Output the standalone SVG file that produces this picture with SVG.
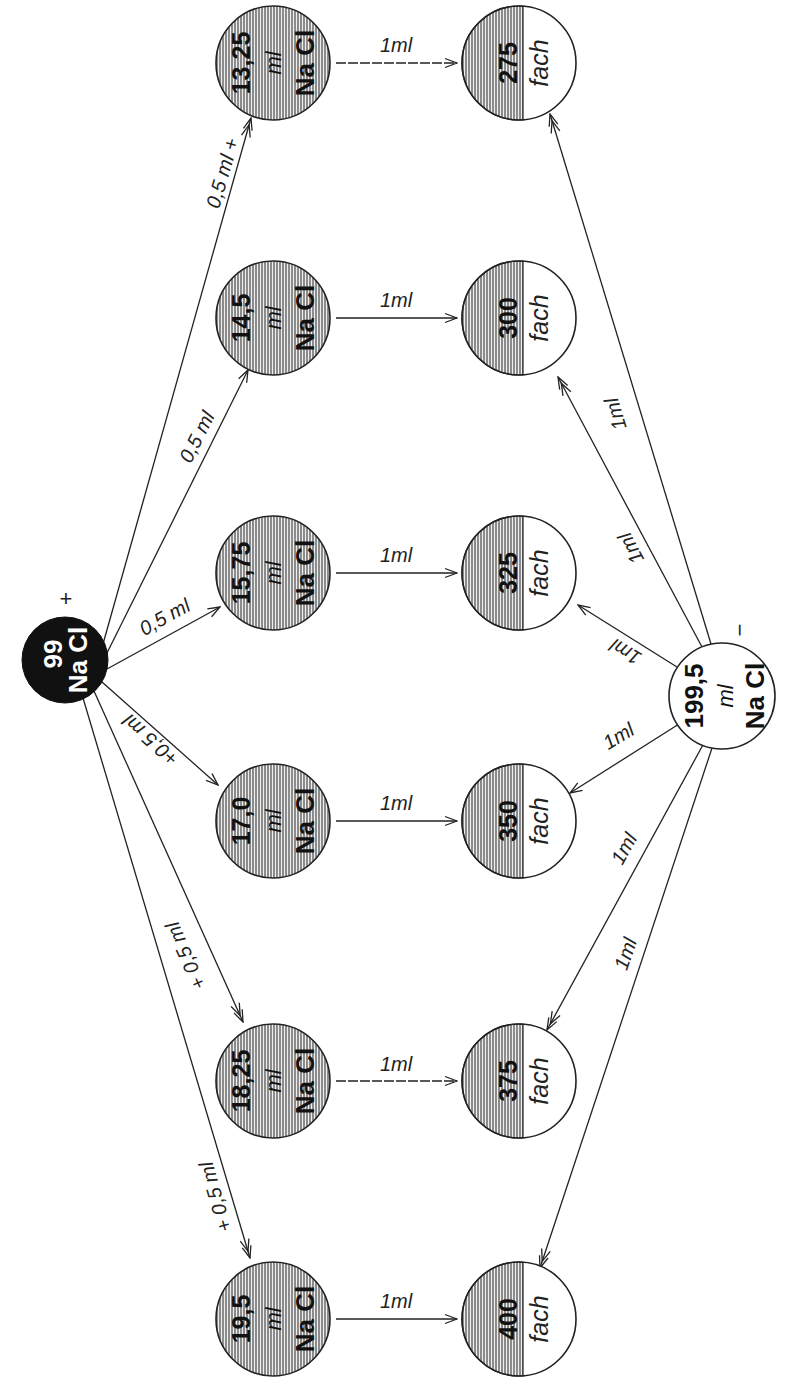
<svg xmlns="http://www.w3.org/2000/svg" width="805" height="1388" viewBox="0 0 805 1388">
<style>
.ln{stroke:#222;stroke-width:1.3;fill:none}
.c{stroke:#222;stroke-width:1.6}
.lbl{font-family:"Liberation Sans",Arial,sans-serif;font-style:italic;font-size:20px;fill:#222;text-anchor:middle}
.num{font-family:"Liberation Sans Narrow","Liberation Sans",sans-serif;font-weight:bold;font-size:25px;fill:#111;text-anchor:middle}
.ml{font-family:"Liberation Sans",Arial,sans-serif;font-style:italic;font-size:22px;fill:#111;text-anchor:middle}
.na{font-family:"Liberation Sans Narrow","Liberation Sans",sans-serif;font-weight:bold;font-size:26px;fill:#111;text-anchor:middle}
.fach{font-family:"Liberation Sans",Arial,sans-serif;font-style:italic;font-size:25px;fill:#222;text-anchor:middle}
.w{fill:#fff}
.sym{font-family:"Liberation Sans",Arial,sans-serif;font-size:22px;fill:#222;text-anchor:middle}
</style>
<defs>
<pattern id="hatch" width="3" height="10" patternUnits="userSpaceOnUse">
<rect width="3" height="10" fill="#eeeeee"/>
<line x1="1" y1="0" x2="1" y2="10" stroke="#3a3a3a" stroke-width="1.1"/>
</pattern>
<marker id="ah" viewBox="-15 -6 16 12" markerWidth="16" markerHeight="12" refX="0" refY="0" orient="auto" markerUnits="userSpaceOnUse">
<path d="M-12,-4.5 L0,0 L-12,4.5" fill="none" stroke="#222" stroke-width="1.3"/>
</marker>
<marker id="ah2" viewBox="-22 -6 23 12" markerWidth="23" markerHeight="12" refX="0" refY="0" orient="auto" markerUnits="userSpaceOnUse">
<path d="M-12,-4.5 L0,0 L-12,4.5 M-19,-4.5 L-7,0 L-19,4.5" fill="none" stroke="#222" stroke-width="1.3"/>
</marker>
</defs>
<rect width="805" height="1388" fill="#fff"/>

<g id="connectors">
<line class="ln" x1="103" y1="644" x2="251" y2="118" marker-end="url(#ah2)"/>
<line class="ln" x1="106" y1="655" x2="248" y2="370" marker-end="url(#ah)"/>
<line class="ln" x1="107" y1="669" x2="220" y2="607" marker-end="url(#ah)"/>
<line class="ln" x1="102" y1="682" x2="218" y2="785" marker-end="url(#ah)"/>
<line class="ln" x1="94" y1="691" x2="243" y2="1022" marker-end="url(#ah2)"/>
<line class="ln" x1="83" y1="698" x2="250" y2="1258" marker-end="url(#ah2)"/>
<line class="ln" x1="336" y1="63" x2="457" y2="63" stroke-dasharray="10 2" marker-end="url(#ah)"/>
<line class="ln" x1="336" y1="318" x2="457" y2="318" marker-end="url(#ah)"/>
<line class="ln" x1="336" y1="573" x2="457" y2="573" marker-end="url(#ah)"/>
<line class="ln" x1="336" y1="821" x2="457" y2="821" marker-end="url(#ah)"/>
<line class="ln" x1="336" y1="1081" x2="457" y2="1081" stroke-dasharray="10 2" marker-end="url(#ah)"/>
<line class="ln" x1="336" y1="1319" x2="457" y2="1319" marker-end="url(#ah)"/>
<line class="ln" x1="711" y1="644" x2="550" y2="114" marker-end="url(#ah2)"/>
<line class="ln" x1="702" y1="647" x2="558" y2="377" marker-end="url(#ah2)"/>
<line class="ln" x1="677" y1="667" x2="578" y2="605" marker-end="url(#ah)"/>
<line class="ln" x1="679" y1="724" x2="570" y2="793" marker-end="url(#ah)"/>
<line class="ln" x1="704" y1="743" x2="547" y2="1030" marker-end="url(#ah2)"/>
<line class="ln" x1="713" y1="745" x2="540" y2="1268" marker-end="url(#ah2)"/>

<text class="lbl" font-size="22" transform="translate(229,175) rotate(-74)">0,5 ml +</text>
<text class="lbl" font-size="22" transform="translate(203,440) rotate(-63)">0,5 ml</text>
<text class="lbl" font-size="21" transform="translate(168,623) rotate(-29)">0,5 ml</text>
<text class="lbl" font-size="21" transform="translate(155,735) rotate(-138)">+0,5 ml</text>
<text class="lbl" font-size="21" transform="translate(192,953) rotate(-114)">+ 0,5 ml</text>
<text class="lbl" font-size="21" transform="translate(222,1195) rotate(-106)">+ 0,5 ml</text>
<text class="lbl" x="396" y="52">1ml</text>
<text class="lbl" x="396" y="307">1ml</text>
<text class="lbl" x="396" y="562">1ml</text>
<text class="lbl" x="396" y="810">1ml</text>
<text class="lbl" x="396" y="1071">1ml</text>
<text class="lbl" x="396" y="1308">1ml</text>
<text class="lbl" transform="translate(622,412) rotate(-107)">1ml</text>
<text class="lbl" transform="translate(637,545) rotate(-118)">1ml</text>
<text class="lbl" transform="translate(629,646) rotate(-149)">1ml</text>
<text class="lbl" transform="translate(622,742) rotate(-31)">1ml</text>
<text class="lbl" transform="translate(630,852) rotate(-61)">1ml</text>
<text class="lbl" transform="translate(632,956) rotate(-71)">1ml</text>
</g>

<text class="sym" x="66" y="606">+</text>
<text class="sym" transform="translate(747,630) rotate(-90)">−</text>

<g id="n-99" transform="translate(65,660)">
<circle r="43" fill="#111" stroke="#111"/>
<g transform="rotate(-90)">
<text class="na w" x="6" y="-3">99</text>
<text class="na w" y="22">Na Cl</text>
</g>
</g>

<g id="n-199-5" transform="translate(722,696)">
<circle r="53" fill="#fff" class="c"/>
<g transform="rotate(-90)">
<text class="na" font-weight="normal" font-size="23" y="-19">199,5</text>
<text class="ml" font-size="21" y="11">ml</text>
<text class="na" font-weight="normal" font-size="25" y="42">Na Cl</text>
</g>
</g>

<g id="n-13-25" transform="translate(273,63)">
<circle r="57" fill="url(#hatch)" class="c"/>
<g transform="rotate(-90)"><text class="num" y="-23">13,25</text><text class="ml" y="8">ml</text><text class="na" y="41">Na Cl</text></g>
</g>
<g id="n-14-5" transform="translate(273,318)">
<circle r="57" fill="url(#hatch)" class="c"/>
<g transform="rotate(-90)"><text class="num" y="-23">14,5</text><text class="ml" y="8">ml</text><text class="na" y="41">Na Cl</text></g>
</g>
<g id="n-15-75" transform="translate(273,573)">
<circle r="57" fill="url(#hatch)" class="c"/>
<g transform="rotate(-90)"><text class="num" y="-23">15,75</text><text class="ml" y="8">ml</text><text class="na" y="41">Na Cl</text></g>
</g>
<g id="n-17-0" transform="translate(273,821)">
<circle r="57" fill="url(#hatch)" class="c"/>
<g transform="rotate(-90)"><text class="num" y="-23">17,0</text><text class="ml" y="8">ml</text><text class="na" y="41">Na Cl</text></g>
</g>
<g id="n-18-25" transform="translate(273,1081)">
<circle r="57" fill="url(#hatch)" class="c"/>
<g transform="rotate(-90)"><text class="num" y="-23">18,25</text><text class="ml" y="8">ml</text><text class="na" y="41">Na Cl</text></g>
</g>
<g id="n-19-5" transform="translate(273,1319)">
<circle r="57" fill="url(#hatch)" class="c"/>
<g transform="rotate(-90)"><text class="num" y="-23">19,5</text><text class="ml" y="8">ml</text><text class="na" y="41">Na Cl</text></g>
</g>

<g id="n-275" transform="translate(519,63)">
<circle r="57" fill="#fff"/>
<path d="M4,-56.86 A57,57 0 1,0 4,56.86 Z" fill="url(#hatch)" stroke="#222" stroke-width="1.2"/>
<circle r="57" fill="none" class="c"/>
<g transform="rotate(-90)"><text class="num" y="-2">275</text><text class="fach" y="29">fach</text></g>
</g>
<g id="n-300" transform="translate(519,318)">
<circle r="57" fill="#fff"/>
<path d="M4,-56.86 A57,57 0 1,0 4,56.86 Z" fill="url(#hatch)" stroke="#222" stroke-width="1.2"/>
<circle r="57" fill="none" class="c"/>
<g transform="rotate(-90)"><text class="num" y="-2">300</text><text class="fach" y="29">fach</text></g>
</g>
<g id="n-325" transform="translate(519,573)">
<circle r="57" fill="#fff"/>
<path d="M4,-56.86 A57,57 0 1,0 4,56.86 Z" fill="url(#hatch)" stroke="#222" stroke-width="1.2"/>
<circle r="57" fill="none" class="c"/>
<g transform="rotate(-90)"><text class="num" y="-2">325</text><text class="fach" y="29">fach</text></g>
</g>
<g id="n-350" transform="translate(519,821)">
<circle r="57" fill="#fff"/>
<path d="M4,-56.86 A57,57 0 1,0 4,56.86 Z" fill="url(#hatch)" stroke="#222" stroke-width="1.2"/>
<circle r="57" fill="none" class="c"/>
<g transform="rotate(-90)"><text class="num" y="-2">350</text><text class="fach" y="29">fach</text></g>
</g>
<g id="n-375" transform="translate(519,1081)">
<circle r="57" fill="#fff"/>
<path d="M4,-56.86 A57,57 0 1,0 4,56.86 Z" fill="url(#hatch)" stroke="#222" stroke-width="1.2"/>
<circle r="57" fill="none" class="c"/>
<g transform="rotate(-90)"><text class="num" y="-2">375</text><text class="fach" y="29">fach</text></g>
</g>
<g id="n-400" transform="translate(519,1319)">
<circle r="57" fill="#fff"/>
<path d="M4,-56.86 A57,57 0 1,0 4,56.86 Z" fill="url(#hatch)" stroke="#222" stroke-width="1.2"/>
<circle r="57" fill="none" class="c"/>
<g transform="rotate(-90)"><text class="num" y="-2">400</text><text class="fach" y="29">fach</text></g>
</g>
</svg>
